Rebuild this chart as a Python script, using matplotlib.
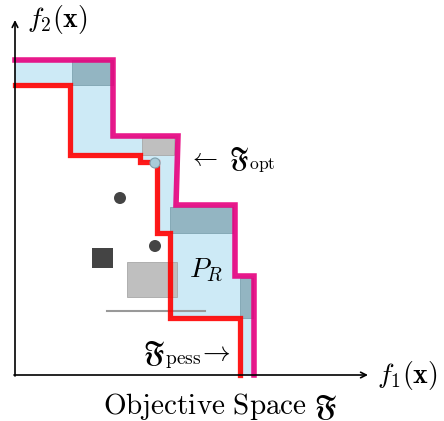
import numpy as np
import matplotlib.pyplot as plt
from matplotlib.patches import Polygon, Rectangle, Circle

plt.rcParams['mathtext.fontset'] = 'cm'
plt.rcParams['font.family'] = 'serif'
plt.rcParams['font.serif'] = ['DejaVu Serif']

# optimistic front (magenta), staircase corners in picture units (y grows downward)
opt_x = [15, 113, 113, 178, 176, 235, 235, 254, 254]
opt_y = [60, 60, 136, 136, 205, 205, 276, 276, 375]

# pessimistic front (red)
pess_x = [15, 70, 70, 140, 140, 157, 157, 170, 170, 240, 240]
pess_y = [85, 85, 155, 155, 162, 162, 233, 233, 318, 318, 375]

# darker boxes inside P_R: (x0, y0, x1, y1)
dark_boxes = [(72, 60, 113, 85), (170, 207, 233, 233), (240, 278, 253, 318)]
gray_boxes = [(142, 137, 174, 155), (127, 262, 177, 297)]

# dominated points
dots = [(120, 198), (155, 246)]
square = (92, 248, 113, 268)

fig = plt.figure(figsize=(4.44, 4.21), dpi=100)
ax = fig.add_axes([0, 0, 1, 1])
ax.set_xlim(0, 444)
ax.set_ylim(421, 0)
ax.axis('off')

# light blue region between the two fronts
poly = list(zip(opt_x, opt_y)) + list(zip(pess_x, pess_y))[::-1]
ax.add_patch(Polygon(poly, closed=True, fc='#cdeaf6', ec='none', zorder=1))

for x0, y0, x1, y1 in dark_boxes:
    ax.add_patch(Rectangle((x0, y0), x1 - x0, y1 - y0, fc='#93b5c2', ec='#7fa3b1', lw=0.6, zorder=2))
for x0, y0, x1, y1 in gray_boxes:
    ax.add_patch(Rectangle((x0, y0), x1 - x0, y1 - y0, fc='#bfbfbf', ec='#a8a8a8', lw=0.6, zorder=2))

ax.add_patch(Circle((155, 163), 5, fc='#a9cbd8', ec='#7f9fab', lw=0.8, zorder=5))
for cx, cy in dots:
    ax.add_patch(Circle((cx, cy), 6, fc='#444444', ec='none', zorder=3))
ax.add_patch(Rectangle((square[0], square[1]), square[2] - square[0], square[3] - square[1],
                       fc='#444444', ec='none', zorder=3))
ax.plot([107, 205], [311, 311], color='#999999', lw=1.5, zorder=3)

ax.plot(pess_x, pess_y, color='#ff0000', lw=3.8, alpha=0.9, solid_joinstyle='miter', zorder=4)
ax.plot(opt_x, opt_y, color='#e6007e', lw=4.0, alpha=0.9, solid_joinstyle='miter', zorder=4)

# axes
ax.annotate('', xy=(15, 20), xytext=(15, 376),
            arrowprops=dict(arrowstyle='->', lw=1.2, color='black', shrinkA=0, shrinkB=0), zorder=6)
ax.annotate('', xy=(368, 375), xytext=(14, 375),
            arrowprops=dict(arrowstyle='->', lw=1.2, color='black', shrinkA=0, shrinkB=0), zorder=6)

ax.text(27, 20, r'$f_2(\mathbf{x})$', fontsize=20, va='center', ha='left')
ax.text(377, 375, r'$f_1(\mathbf{x})$', fontsize=20, va='center', ha='left')
ax.text(220, 407, r'$\mathrm{Objective\ Space}\ \mathfrak{F}$', fontsize=21, va='center', ha='center')
ax.text(188, 160, r'$\leftarrow\ \mathfrak{F}_{\mathrm{opt}}$', fontsize=18, va='center', ha='left')
ax.text(231, 355, r'$\mathfrak{F}_{\mathrm{pess}}\!\rightarrow$', fontsize=20, va='center', ha='right')
ax.text(206, 270, r'$P_R$', fontsize=20, va='center', ha='center', zorder=6)

fig.savefig('out.png', dpi=100)
